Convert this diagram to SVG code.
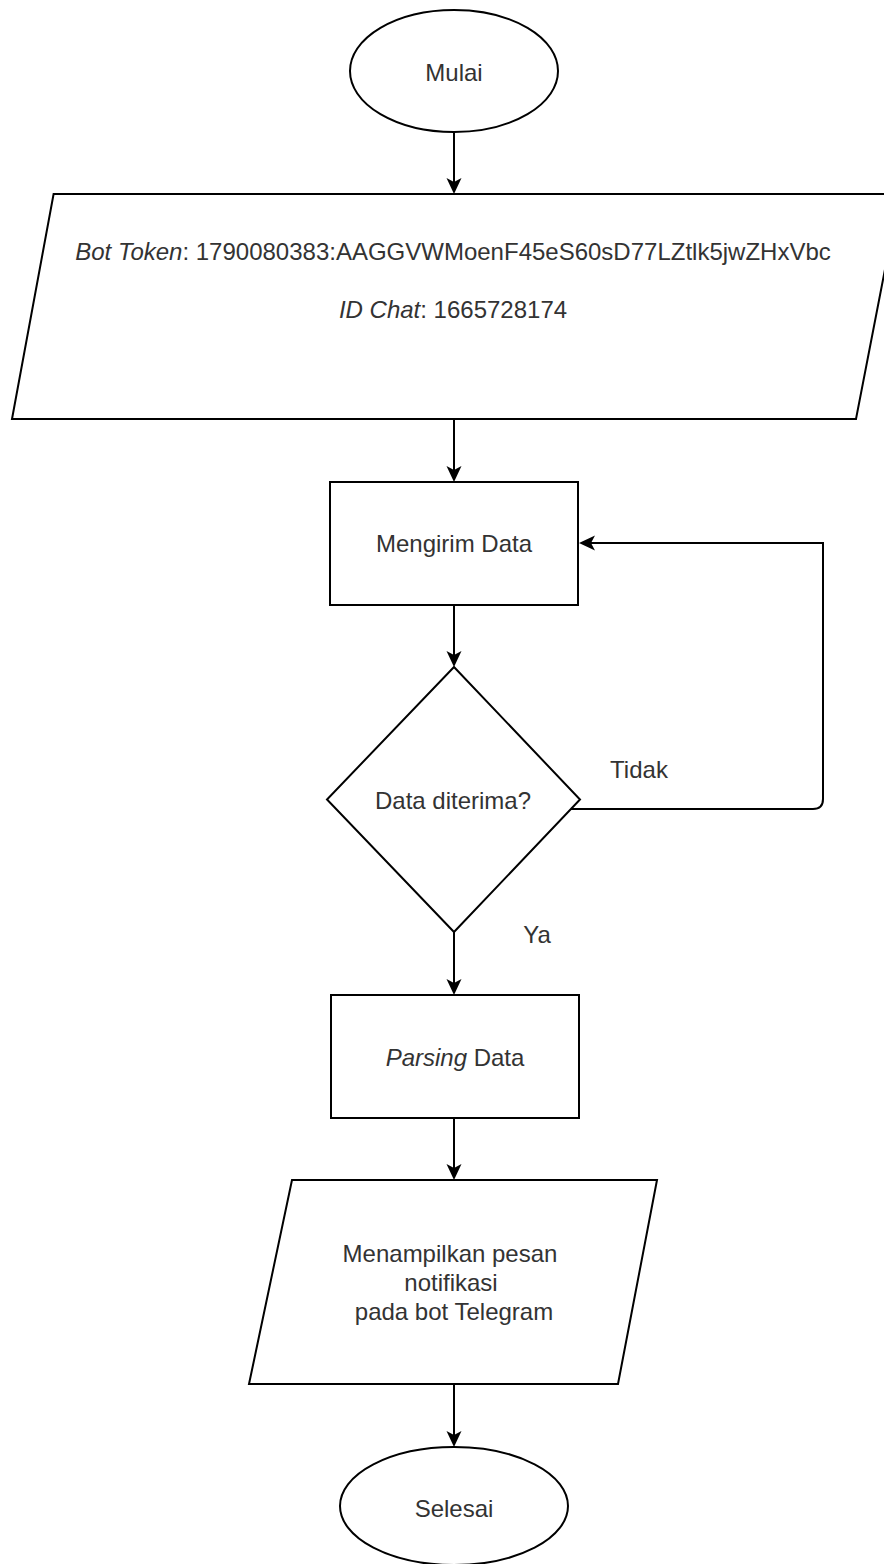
<svg xmlns="http://www.w3.org/2000/svg" width="884" height="1564" viewBox="0 0 884 1564">
  <style>
    .shape { fill: #ffffff; stroke: #000000; stroke-width: 2; }
    .edge { fill: none; stroke: #000000; stroke-width: 2; }
    .label { font-family: "Liberation Sans", Arial, Helvetica, sans-serif; font-size: 24px; fill: #333333; text-anchor: middle; }
    .em { font-style: italic; }
  </style>
  <defs>
    <!-- classic arrowhead; the edge path stops at the notch (x=4) -->
    <marker id="arrow" markerUnits="userSpaceOnUse" markerWidth="16" markerHeight="16" viewBox="0 0 16 16" refX="4" refY="8" orient="auto">
      <path d="M0,0.5 L16,8 L0,15.5 L4,8 Z" fill="#000000"/>
    </marker>
  </defs>
  <rect width="884" height="1564" fill="#ffffff"/>

  <g id="edges">
    <path class="edge" d="M454,132 V182" marker-end="url(#arrow)"/>
    <path class="edge" d="M454,419 V470" marker-end="url(#arrow)"/>
    <path class="edge" d="M454,605 V655" marker-end="url(#arrow)"/>
    <path class="edge" d="M454,932 V983" marker-end="url(#arrow)"/>
    <path class="edge" d="M454,1118 V1168" marker-end="url(#arrow)"/>
    <path class="edge" d="M454,1384 V1435" marker-end="url(#arrow)"/>
    <path class="edge" d="M570,809 H813 Q823,809 823,799 V543 H591" marker-end="url(#arrow)"/>
  </g>

  <g id="start">
    <ellipse class="shape" cx="454" cy="71" rx="104" ry="61"/>
    <text class="label" x="454" y="81">Mulai</text>
  </g>

  <g id="input-credentials">
    <polygon class="shape" points="53.6,194 899.6,194 856,419 12,419"/>
    <text class="label" x="453" y="260"><tspan class="em">Bot Token</tspan>: 1790080383:AAGGVWMoenF45eS60sD77LZtlk5jwZHxVbc</text>
    <text class="label" x="453" y="318"><tspan class="em">ID Chat</tspan>: 1665728174</text>
  </g>

  <g id="send-data">
    <rect class="shape" x="330" y="482" width="248" height="123"/>
    <text class="label" x="454" y="552">Mengirim Data</text>
  </g>

  <g id="decision">
    <polygon class="shape" points="454,667 580,799.5 454,932 327,799.5"/>
    <text class="label" x="453" y="809">Data diterima?</text>
  </g>

  <g id="label-no">
    <text class="label" x="639" y="778">Tidak</text>
  </g>

  <g id="label-yes">
    <text class="label" x="537" y="943">Ya</text>
  </g>

  <g id="parse-data">
    <rect class="shape" x="331" y="995" width="248" height="123"/>
    <text class="label" x="455" y="1066"><tspan class="em">Parsing</tspan> Data</text>
  </g>

  <g id="show-notification">
    <polygon class="shape" points="292,1180 657,1180 618,1384 249,1384"/>
    <text class="label" x="450" y="1262">Menampilkan pesan</text>
    <text class="label" x="451" y="1291">notifikasi</text>
    <text class="label" x="454" y="1320">pada bot Telegram</text>
  </g>

  <g id="end">
    <ellipse class="shape" cx="454" cy="1506" rx="114" ry="59"/>
    <text class="label" x="454" y="1517">Selesai</text>
  </g>
</svg>
